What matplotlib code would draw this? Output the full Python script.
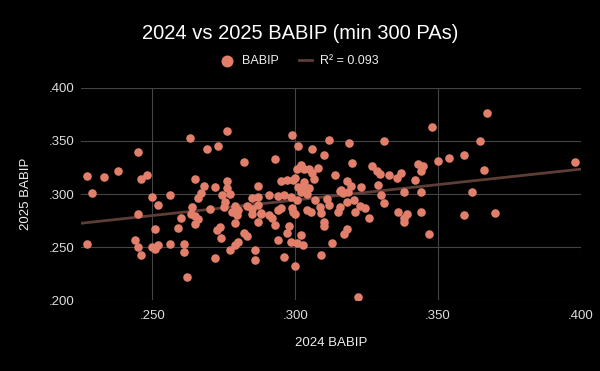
import matplotlib
matplotlib.use("Agg")
import matplotlib.pyplot as plt
import numpy as np
from matplotlib.ticker import FuncFormatter, MultipleLocator

# 2024 BABIP vs 2025 BABIP, hitters with 300+ PAs
babip_2024 = [
    0.227, 0.229, 0.233, 0.238, 0.245, 0.246, 0.248, 0.250, 0.256, 0.263,
    0.265, 0.267, 0.227, 0.245, 0.244, 0.245, 0.246, 0.250, 0.251, 0.251,
    0.252, 0.252, 0.256, 0.259, 0.260, 0.261, 0.261, 0.262, 0.264, 0.265,
    0.265, 0.266, 0.266, 0.276, 0.269, 0.273, 0.282, 0.293, 0.299, 0.268,
    0.272, 0.276, 0.276, 0.2745, 0.277, 0.287, 0.270, 0.275, 0.279, 0.283,
    0.285, 0.287, 0.291, 0.295, 0.297, 0.2994, 0.294, 0.296, 0.295, 0.280,
    0.285, 0.287, 0.288, 0.299, 0.301, 0.306, 0.312, 0.310, 0.319, 0.331,
    0.320, 0.314, 0.327, 0.3285, 0.3296, 0.333, 0.3355, 0.329, 0.323, 0.318,
    0.3197, 0.316, 0.330, 0.302, 0.3007, 0.303, 0.305, 0.308, 0.306, 0.3066,
    0.300, 0.303, 0.301, 0.3034, 0.305, 0.302, 0.304, 0.2987, 0.3007, 0.307,
    0.311, 0.3156, 0.3185, 0.331, 0.3205, 0.3226, 0.3244, 0.3156, 0.312, 0.3086,
    0.304, 0.2993, 0.336, 0.348, 0.367, 0.3646, 0.359, 0.354, 0.350, 0.343,
    0.3446, 0.344, 0.337, 0.342, 0.366, 0.398, 0.338, 0.344, 0.362, 0.339,
    0.338, 0.338, 0.344, 0.347, 0.359, 0.370, 0.300, 0.3057, 0.309, 0.315,
    0.321, 0.326, 0.310, 0.310, 0.318, 0.317, 0.302, 0.2987, 0.3007, 0.3026,
    0.313, 0.309, 0.300, 0.298, 0.322, 0.2635, 0.2737, 0.2727, 0.274, 0.279,
    0.282, 0.283, 0.280, 0.279, 0.277, 0.272, 0.286, 0.286, 0.285, 0.287,
    0.288, 0.292, 0.293, 0.294, 0.296, 0.297, 0.294, 0.2778, 0.2795, 0.2754,
    0.3168, 0.318, 0.291,
]
babip_2025 = [
    0.317, 0.301, 0.316, 0.322, 0.340, 0.314, 0.318, 0.297, 0.299, 0.353,
    0.314, 0.301, 0.253, 0.281, 0.257, 0.250, 0.243, 0.250, 0.267, 0.248,
    0.252, 0.290, 0.253, 0.268, 0.277, 0.253, 0.245, 0.222, 0.288, 0.279,
    0.272, 0.276, 0.296, 0.359, 0.342, 0.345, 0.330, 0.333, 0.356, 0.308,
    0.307, 0.312, 0.306, 0.299, 0.300, 0.308, 0.286, 0.288, 0.289, 0.289,
    0.296, 0.2975, 0.299, 0.312, 0.313, 0.313, 0.298, 0.299, 0.287, 0.285,
    0.2856, 0.290, 0.282, 0.287, 0.345, 0.342, 0.351, 0.337, 0.348, 0.350,
    0.329, 0.318, 0.326, 0.322, 0.3186, 0.318, 0.315, 0.3085, 0.307, 0.312,
    0.3075, 0.304, 0.299, 0.327, 0.324, 0.324, 0.324, 0.325, 0.320, 0.314,
    0.315, 0.3116, 0.307, 0.307, 0.3054, 0.302, 0.300, 0.2975, 0.294, 0.294,
    0.295, 0.303, 0.302, 0.292, 0.294, 0.289, 0.2865, 0.2874, 0.290, 0.2874,
    0.285, 0.283, 0.283, 0.363, 0.376, 0.350, 0.337, 0.334, 0.331, 0.328,
    0.326, 0.322, 0.3195, 0.313, 0.323, 0.330, 0.302, 0.302, 0.302, 0.281,
    0.274, 0.277, 0.283, 0.262, 0.280, 0.282, 0.281, 0.283, 0.2824, 0.283,
    0.283, 0.277, 0.274, 0.270, 0.267, 0.262, 0.261, 0.255, 0.2535, 0.252,
    0.254, 0.243, 0.232, 0.270, 0.203, 0.281, 0.2686, 0.266, 0.259, 0.273,
    0.2635, 0.260, 0.255, 0.252, 0.247, 0.240, 0.247, 0.238, 0.281, 0.274,
    0.281, 0.277, 0.271, 0.257, 0.241, 0.263, 0.285, 0.2833, 0.280, 0.2927,
    0.3006, 0.2927, 0.280,
]
r2_label = "R² = 0.093"

x = np.array(babip_2024)
y = np.array(babip_2025)

plt.rcParams["font.family"] = ["Liberation Sans", "DejaVu Sans"]

fig = plt.figure(figsize=(6, 3.71), dpi=100, facecolor="black")
ax = fig.add_axes([0.135, 0.191, 0.833, 0.572], facecolor="black")

dot_color = "#e27f6b"
line_color = "#5e3d36"

ax.scatter(x, y, s=38, color=dot_color, linewidths=0, zorder=3, label="BABIP")

slope, intercept = np.polyfit(x, y, 1)
xs = np.array([0.225, 0.400])
ax.plot(xs, slope * xs + intercept, color=line_color, lw=2, zorder=2, label=r2_label)

ax.set_xlim(0.225, 0.400)
ax.set_ylim(0.200, 0.400)
ax.xaxis.set_major_locator(MultipleLocator(0.05))
ax.yaxis.set_major_locator(MultipleLocator(0.05))
fmt = FuncFormatter(lambda v, _: f"{v:.3f}".lstrip("0"))
ax.xaxis.set_major_formatter(fmt)
ax.yaxis.set_major_formatter(fmt)

ax.grid(True, color="#444444", lw=0.8)
ax.set_axisbelow(True)
for s in ax.spines.values():
    s.set_visible(False)
ax.tick_params(length=0, colors="#dddddd", labelsize=9.5)
ax.tick_params(axis="y", pad=5)
ax.tick_params(axis="x", pad=7)

ax.set_xlabel("2024 BABIP", color="#eeeeee", fontsize=9.5, labelpad=11)
ax.set_ylabel("2025 BABIP", color="#eeeeee", fontsize=9.5, labelpad=12)

fig.suptitle("2024 vs 2025 BABIP (min 300 PAs)", color="white", fontsize=14.5, y=0.935)
leg = fig.legend(loc="center", bbox_to_anchor=(0.5, 0.835), ncol=2, frameon=False,
                 fontsize=9, handlelength=1.0, handletextpad=0.7, columnspacing=1.6,
                 markerscale=1.4, labelcolor="#eeeeee")

fig.savefig("out.png", dpi=100, facecolor="black")
